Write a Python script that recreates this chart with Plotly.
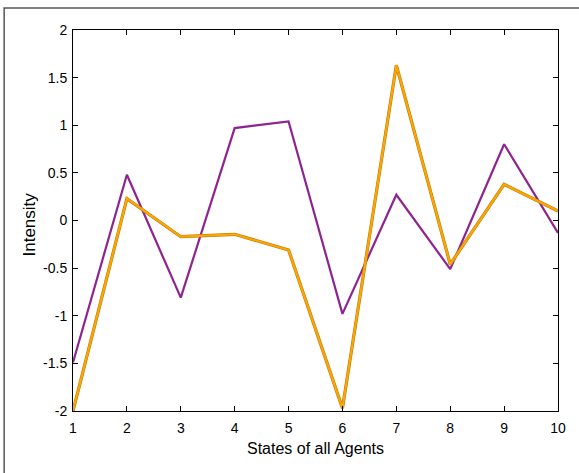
import plotly.graph_objects as go

x_states = [1, 2, 3, 4, 5, 6, 7, 8, 9, 10]
purple_vals = [-1.49, 0.48, -0.81, 0.97, 1.04, -0.98, 0.27, -0.51, 0.80, -0.13]
orange_vals = [-2.0, 0.23, -0.17, -0.145, -0.31, -1.97, 1.63, -0.46, 0.38, 0.10]
x_ticks = [1, 2, 3, 4, 5, 6, 7, 8, 9, 10]
y_ticks = [-2, -1.5, -1, -0.5, 0, 0.5, 1, 1.5, 2]
y_ticklabels = ["-2", "-1.5", "-1", "-0.5", "0", "0.5", "1", "1.5", "2"]
x_title = "States of all Agents"
y_title = "Intensity"

fig = go.Figure()
fig.add_trace(go.Scatter(x=x_states, y=purple_vals, mode="lines",
                         line=dict(color="#8e2490", width=2.2), showlegend=False))
fig.add_trace(go.Scatter(x=x_states, y=orange_vals, mode="lines",
                         line=dict(color="#b07a10", width=3.2), showlegend=False))
fig.add_trace(go.Scatter(x=x_states, y=orange_vals, mode="lines",
                         line=dict(color="#ffa500", width=2.2), showlegend=False))

font = dict(family="Liberation Sans, Arial, sans-serif", size=14, color="black")
axis_common = dict(showgrid=False, zeroline=False, showline=True, linecolor="black",
                   linewidth=1, mirror="ticks", ticks="inside", ticklen=5,
                   tickcolor="black", tickwidth=1, tickfont=font, automargin=False)

fig.update_layout(
    width=579, height=473,
    margin=dict(l=73, r=21, t=30, b=62),
    plot_bgcolor="white", paper_bgcolor="white",
    font=font,
    xaxis=dict(range=[1, 10], tickvals=x_ticks, ticktext=[str(v) for v in x_ticks],
               ticklabelstandoff=4, **axis_common),
    yaxis=dict(range=[-2, 2], tickvals=y_ticks, ticktext=y_ticklabels,
               ticklabelstandoff=2, **axis_common),
    annotations=[
        dict(text=x_title, xref="paper", yref="paper", x=0.5, y=-0.0997,
             xanchor="center", yanchor="middle", showarrow=False,
             font=dict(size=16, family=font["family"], color="black")),
        dict(text=y_title, xref="paper", yref="paper", x=-0.0907, y=-0.0105 + 0.5,
             xanchor="center", yanchor="middle", showarrow=False, textangle=-90,
             font=dict(size=17, family=font["family"], color="black")),
    ],
    shapes=[dict(type="rect", xref="paper", yref="paper",
                 x0=-0.142, x1=1.2, y0=-0.3, y1=1.058,
                 line=dict(color="#555555", width=1.5), layer="above")],
)

fig.write_html("out.html", config={"displayModeBar": False},
               post_script="document.body.style.margin='0';document.body.style.padding='0';")
